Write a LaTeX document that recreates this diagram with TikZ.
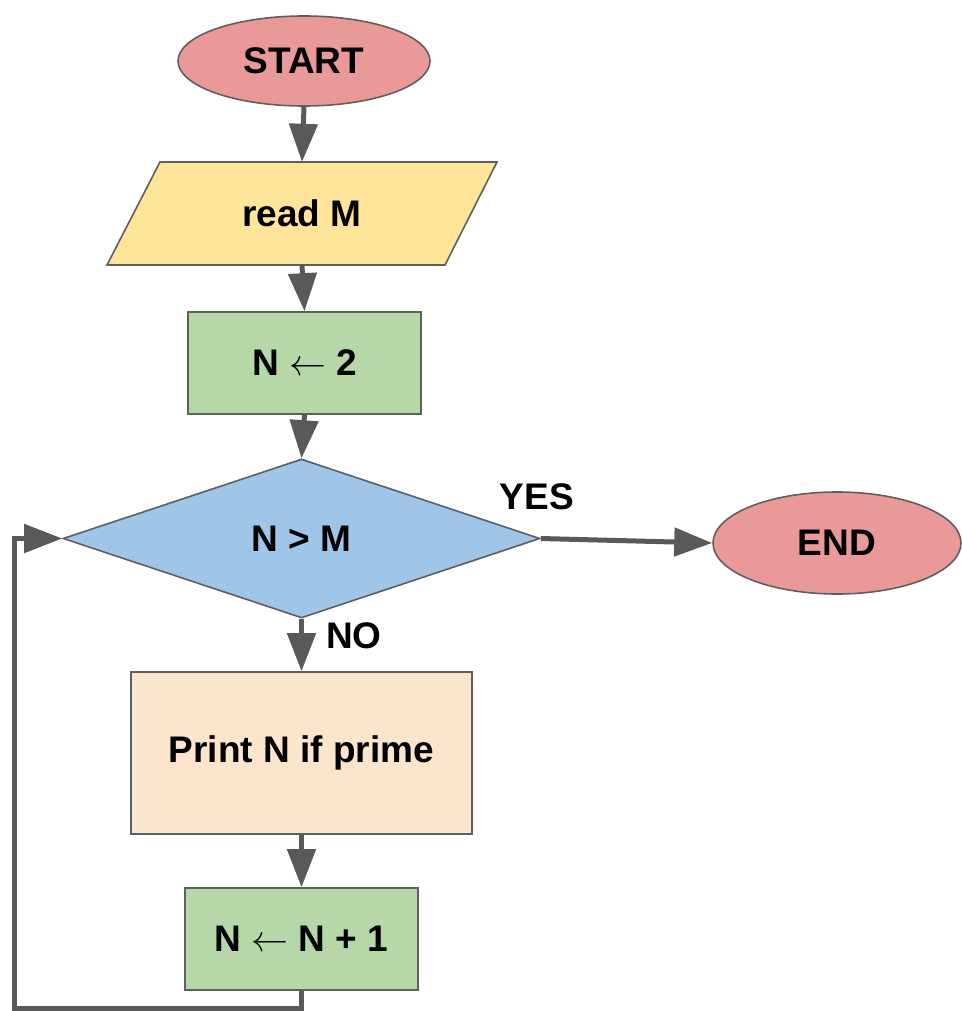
\RequirePackage{fix-cm}
\documentclass[tikz,border=0pt]{standalone}
\usepackage{fontspec}
\setmainfont{Liberation Sans}
\usetikzlibrary{shapes.geometric,arrows.meta}
\definecolor{cstart}{HTML}{EA9999}
\definecolor{cread}{HTML}{FFE599}
\definecolor{cgreen}{HTML}{B6D7A8}
\definecolor{cblue}{HTML}{9FC5E8}
\definecolor{cpeach}{HTML}{FCE5CD}
\definecolor{cline}{HTML}{595959}
\definecolor{cborder}{HTML}{5F5F5F}
\tikzset{
  lbl/.style={font=\fontsize{37}{44}\selectfont\bfseries, text=black},
  shp/.style={lbl, draw=cborder, line width=1.6pt, inner sep=0pt},
  oval/.style={shp, ellipse, fill=cstart},
  box/.style={shp, rectangle},
  dia/.style={shp, diamond, fill=cblue},
  conn/.style={draw=cline, line width=5pt, -{Triangle[length=38pt,width=28pt]}},
}
\begin{document}
\begin{tikzpicture}[x=1pt,y=-1pt]
\useasboundingbox (0,0) rectangle (961,1011);
% parallelogram
\draw[fill=cread, draw=cborder, line width=1.6pt] (160,162) -- (497,162) -- (445,265) -- (107,265) -- cycle;
\node[oval, minimum width=252pt, minimum height=90pt] (start) at (304,61) {START};
\node[lbl, minimum width=300pt, minimum height=103pt, inner sep=0pt] (read) at (302,213.5) {read M};
\node[box, fill=cgreen, minimum width=233pt, minimum height=102pt] (n2) at (304.5,363) {N $\leftarrow$ 2};
\node[dia, minimum width=477pt, minimum height=159pt] (cond) at (301.5,538.5) {N > M};
\node[oval, minimum width=248pt, minimum height=102pt] (end) at (837,543) {END};
\node[box, fill=cpeach, minimum width=341pt, minimum height=162pt] (print) at (301.5,753) {Print N if prime};
\node[box, fill=cgreen, minimum width=233pt, minimum height=102pt] (inc) at (301.5,939) {N $\leftarrow$ N + 1};
\node[lbl] (yes) at (537,497) {YES};
\node[lbl] (no) at (354,636) {NO};
\coordinate (lb) at (14.5,1008);
\draw[conn] (start.south) -- (read.north);
\draw[conn] (read.south) -- (n2.north);
\draw[conn] (n2.south) -- (cond.north);
\draw[conn] (cond.east) -- (end.west);
\draw[conn] (cond.south) -- (print.north);
\draw[conn] (print.south) -- (inc.north);
\draw[conn] (inc.south) |- (lb) |- (cond.west);
\end{tikzpicture}
\end{document}
